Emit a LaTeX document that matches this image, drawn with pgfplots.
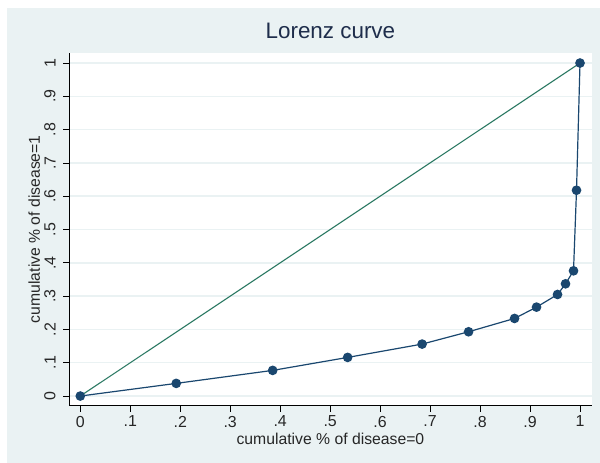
\documentclass[border=0pt]{standalone}
\usepackage{fontspec}
\setmainfont{Liberation Sans}
\usepackage{pgfplots}
\pgfplotsset{compat=1.18}

\definecolor{bgblue}{RGB}{234,242,243}
\definecolor{gridc}{RGB}{234,242,243}
\definecolor{stnavy}{RGB}{26,71,111}
\definecolor{stgreen}{RGB}{44,122,100}
\definecolor{titlec}{RGB}{30,45,75}

\begin{document}
\begin{tikzpicture}
% page = 600 x 463 px, origin at the plot box's lower left corner
\useasboundingbox (-69.3bp,-57.3bp) rectangle (530.7bp,405.7bp);
\fill[bgblue] (-62.3bp,-57.3bp) rectangle (530.7bp,397.7bp);
\begin{axis}[
    at={(0,0)}, anchor=south west,
    scale only axis,
    width=522.2bp, height=353bp,
    xmin=-0.022, xmax=1.023,
    ymin=-0.029, ymax=1.031,
    axis lines=left,
    axis line style={-, black, line width=0.8bp},
    axis background/.style={fill=white},
    tick align=outside,
    major tick length=6bp,
    tick style={black, line width=0.8bp},
    xtick={0,0.1,0.2,0.3,0.4,0.5,0.6,0.7,0.8,0.9,1},
    ytick={0,0.1,0.2,0.3,0.4,0.5,0.6,0.7,0.8,0.9,1},
    xticklabels={0,.1,.2,.3,.4,.5,.6,.7,.8,.9,1},
    yticklabels={0,.1,.2,.3,.4,.5,.6,.7,.8,.9,1},
    ymajorgrids,
    grid style={gridc, line width=1.5bp},
    /pgf/number format/assume math mode=true,
    tick label style={font=\fontsize{16}{19}\selectfont, text=black!85},
    xticklabel style={anchor=north, inner sep=0pt, yshift=-4bp},
    % rotated frame: +y points to the left
    yticklabel style={rotate=90, anchor=south, inner sep=0pt, yshift=7.5bp},
    title={Lorenz curve},
    title style={font=\fontsize{22.5}{27}\selectfont, text=titlec,
        at={(axis description cs:0.5,1)}, anchor=base, yshift=8.7bp},
    xlabel={cumulative \% of disease=0},
    ylabel={cumulative \% of disease=1},
    label style={font=\fontsize{15.8}{19}\selectfont, text=black!85},
    xlabel style={at={(axis description cs:0.5,0)}, anchor=base, yshift=-38.6bp},
    ylabel style={at={(axis description cs:0,0.5)}, anchor=base, yshift=29.3bp},
]
% line of equality
\addplot[stgreen, line width=1.1bp] coordinates {(0,0) (1,1)};
% Lorenz curve
\addplot[stnavy, line width=1.2bp, mark=*, mark size=4.2bp,
    mark options={fill=stnavy, draw=stnavy}] coordinates {
    (0,0)
    (0.192,0.038)
    (0.385,0.077)
    (0.535,0.116)
    (0.684,0.156)
    (0.777,0.193)
    (0.869,0.233)
    (0.913,0.267)
    (0.955,0.305)
    (0.971,0.337)
    (0.987,0.376)
    (0.993,0.618)
    (1,1)
};
\end{axis}
\end{tikzpicture}
\end{document}
